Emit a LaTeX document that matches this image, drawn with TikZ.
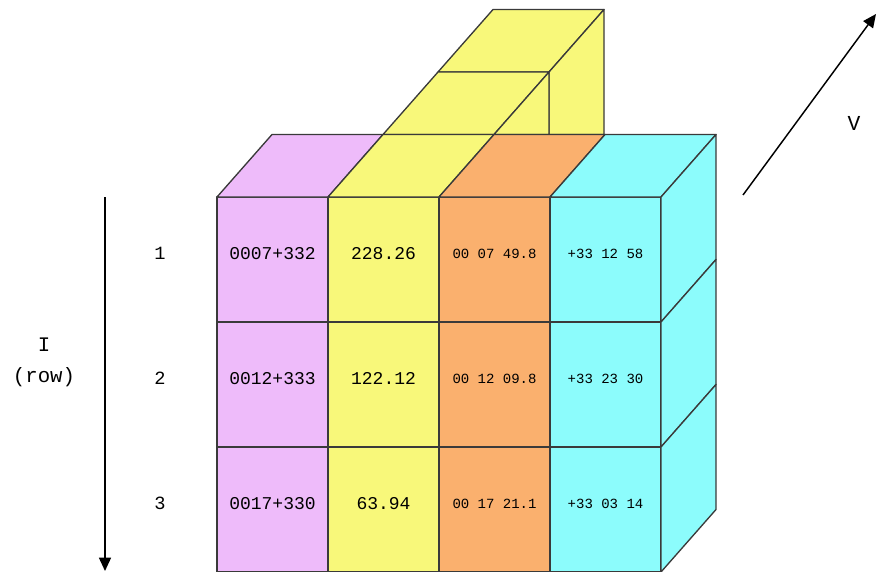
\documentclass[tikz,border=0pt]{standalone}
\usepackage{fontspec}
\newfontfamily\cellfont{Liberation Mono}
\usetikzlibrary{arrows.meta,positioning}

\definecolor{edge}{RGB}{58,58,58}
\definecolor{lilac}{RGB}{238,187,250}
\definecolor{lemon}{RGB}{248,248,122}
\definecolor{apricot}{RGB}{250,176,110}
\definecolor{aqua}{RGB}{140,252,252}

\begin{document}
\begin{tikzpicture}[
  x=0.75pt, y=-0.75pt,
  font=\cellfont\fontsize{13.5}{15}\selectfont,
  face/.style={draw=edge, line width=1pt, line join=round},
  cell/.style={face, rectangle, minimum width=83.25pt, minimum height=93.75pt,
    inner sep=0pt, outer sep=0pt, text depth=9pt},
  narrow/.style={font=\cellfont\fontsize{10.5}{12}\selectfont},
  axis/.style={-{Triangle[length=10pt, width=9pt]}, line width=1.1pt},
  lab/.style={font=\cellfont\fontsize{14}{16}\selectfont, inner sep=0pt}
]
\useasboundingbox (0,0) rectangle (877,571);

% front faces, one column per field
\node[cell, fill=lilac, anchor=north west] (id1) at (217,197) {0007+332};
\node[cell, fill=lilac, below=0pt of id1] (id2) {0012+333};
\node[cell, fill=lilac, below=0pt of id2] (id3) {0017+330};

\node[cell, fill=lemon, right=0pt of id1] (val1) {228.26};
\node[cell, fill=lemon, right=0pt of id2] (val2) {122.12};
\node[cell, fill=lemon, right=0pt of id3] (val3) {63.94};

\node[cell, narrow, fill=apricot, right=0pt of val1] (ra1) {00 07 49.8};
\node[cell, narrow, fill=apricot, right=0pt of val2] (ra2) {00 12 09.8};
\node[cell, narrow, fill=apricot, right=0pt of val3] (ra3) {00 17 21.1};

\node[cell, narrow, fill=aqua, right=0pt of ra1] (dec1) {+33 12 58};
\node[cell, narrow, fill=aqua, right=0pt of ra2] (dec2) {+33 23 30};
\node[cell, narrow, fill=aqua, right=0pt of ra3] (dec3) {+33 03 14};

% yellow column runs three cells deep
\draw[face, fill=lemon] (val1.north west) ++(110,-125)
  -- ++(111,0) -- ++(55,-62.5) -- ++(-111,0) -- cycle;
\draw[face, fill=lemon] (val1.north east) ++(110,-125)
  -- ++(55,-62.5) -- ++(0,125) -- ++(-55,0) -- cycle;
\draw[face, fill=lemon] (val1.north west) ++(55,-62.5)
  -- ++(111,0) -- ++(55,-62.5) -- ++(-111,0) -- cycle;
\draw[face, fill=lemon] (val1.north east) ++(55,-62.5)
  -- ++(55,-62.5) -- ++(0,62.5) -- cycle;

% top faces
\draw[face, fill=lilac] (id1.north west) -- (id1.north east)
  -- ++(55,-62.5) -- ++(-111,0) -- cycle;
\draw[face, fill=lemon] (val1.north west) -- (val1.north east)
  -- ++(55,-62.5) -- ++(-111,0) -- cycle;
\draw[face, fill=apricot] (ra1.north west) -- (ra1.north east)
  -- ++(55,-62.5) -- ++(-111,0) -- cycle;
\draw[face, fill=aqua] (dec1.north west) -- (dec1.north east)
  -- ++(55,-62.5) -- ++(-111,0) -- cycle;

% right side
\draw[face, fill=aqua] (dec1.north east) -- ++(55,-62.5) -- ++(0,125)
  -- (dec1.south east) -- cycle;
\draw[face, fill=aqua] (dec2.north east) -- ++(55,-62.5) -- ++(0,125)
  -- (dec2.south east) -- cycle;
\draw[face, fill=aqua] (dec3.north east) -- ++(55,-62.5) -- ++(0,125)
  -- (dec3.south east) -- cycle;

% row numbers and axes
\node[lab] (n1) at (160,253) {1};
\node[lab] (n2) at (160,378) {2};
\node[lab] (n3) at (160,503) {3};
\node[lab, align=center, font=\cellfont\fontsize{15.5}{23}\selectfont]
  (rowlab) at (44,362) {I\\(row)};

\coordinate (itop) at (105,197);
\coordinate (ibot) at (105,571);
\draw[axis] (itop) -- (ibot);

\coordinate (vtail) at (743,195);
\coordinate (vhead) at (876,14);
\draw[axis] (vtail) -- (vhead);
\node[lab, font=\cellfont\fontsize{16}{18}\selectfont] (vlab) at (854,123) {V};
\end{tikzpicture}
\end{document}
